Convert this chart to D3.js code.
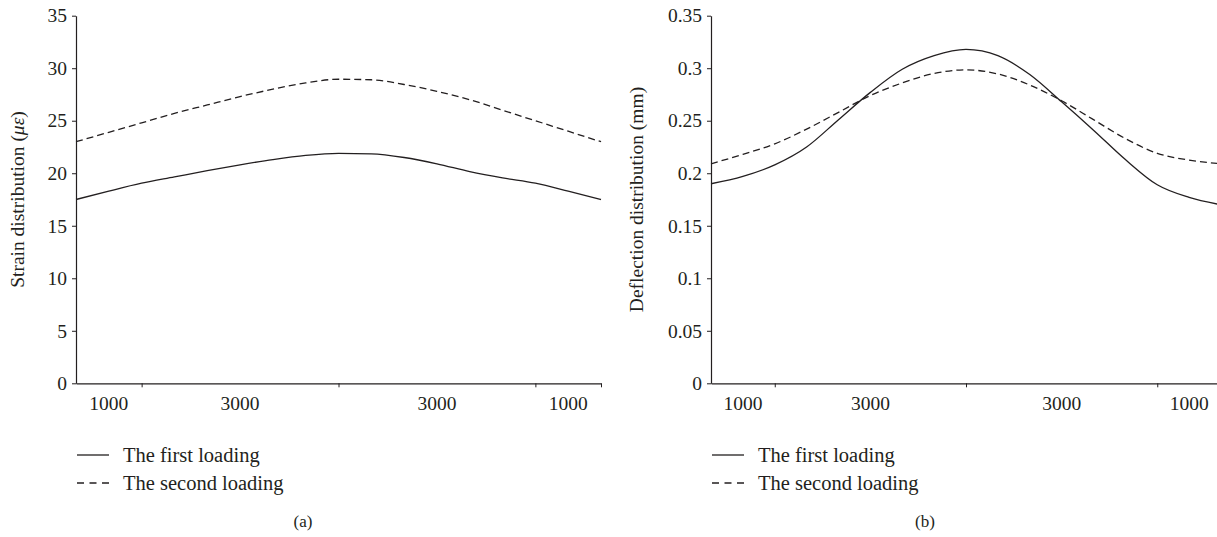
<!DOCTYPE html>
<html>
<head>
<meta charset="utf-8">
<script src="https://cdn.jsdelivr.net/npm/d3@7"></script>
<style>
  html, body { margin: 0; padding: 0; background: #fff; }
  svg { display: block; }
  text { font-family: "Liberation Serif", "Times New Roman", serif; fill: #231f20; }
</style>
</head>
<body>
<svg id="chart" width="1217" height="537"></svg>
<script>
// Positions along the span (mm)
const positions = [0, 500, 1000, 1500, 2000, 2500, 3000, 3500, 4000, 4500, 5000, 5500, 6000, 6500, 7000, 7500, 8000];
// Segment boundaries and their labels (x-axis)
const segmentBounds = [0, 1000, 4000, 7000, 8000];
const segmentLabels = ["1000", "3000", "3000", "1000"];

// (a) Strain distribution (με)
const strainFirst  = [17.5, 18.3, 19.05, 19.65, 20.25, 20.8, 21.3, 21.7, 21.9, 21.85, 21.5, 20.9, 20.15, 19.55, 19.05, 18.3, 17.5];
const strainSecond = [23.0, 23.9, 24.8, 25.7, 26.5, 27.3, 28.0, 28.6, 28.95, 28.9, 28.45, 27.8, 27.0, 26.0, 25.0, 24.0, 23.0];
const strainTicks  = [0, 5, 10, 15, 20, 25, 30, 35];

// (b) Deflection distribution (mm)
const deflFirst  = [0.19, 0.197, 0.208, 0.225, 0.251, 0.277, 0.299, 0.312, 0.318, 0.312, 0.294, 0.268, 0.241, 0.213, 0.189, 0.177, 0.170];
const deflSecond = [0.209, 0.218, 0.228, 0.242, 0.258, 0.274, 0.286, 0.295, 0.2985, 0.2945, 0.284, 0.269, 0.251, 0.233, 0.219, 0.2125, 0.209];
const deflTicks  = [0, 0.05, 0.1, 0.15, 0.2, 0.25, 0.3, 0.35];

const seriesNames = ["The first loading", "The second loading"];
const captions = ["(a)", "(b)"];

const svg = d3.select("#chart");
const ink = "#231f20";
const FS = 19.5;
const LFS = 20.5;

const panels = [
  { left: 76, right: 601, yMax: 35, ticks: strainTicks, fmt: d => String(d),
    first: strainFirst, second: strainSecond, titleX: 17, caption: captions[0], capX: 303,
    title: [{t: "Strain distribution ("}, {t: "με", i: true}, {t: ")"}] },
  { left: 711, right: 1221, yMax: 0.35, ticks: deflTicks, fmt: d => String(d),
    first: deflFirst, second: deflSecond, titleX: 636, caption: captions[1], capX: 925,
    title: [{t: "Deflection distribution (mm)"}] }
];

const plotTop = 15.7, plotBottom = 383.3;

panels.forEach(p => {
  const x = d3.scaleLinear().domain([0, 8000]).range([p.left, p.right]);
  const y = d3.scaleLinear().domain([0, p.yMax]).range([plotBottom, plotTop]);
  const g = svg.append("g");

  // Y axis
  const yAxis = d3.axisLeft(y).tickValues(p.ticks).tickFormat(p.fmt).tickSize(4).tickSizeOuter(0).tickPadding(5);
  const ya = g.append("g").attr("transform", `translate(${p.left},0)`).call(yAxis);
  ya.select(".domain").attr("stroke", ink).attr("stroke-width", 1.2);
  ya.selectAll(".tick line").attr("stroke", ink).attr("stroke-width", 1);
  ya.selectAll(".tick text").attr("font-size", FS).attr("font-family", "Liberation Serif").attr("fill", ink);

  // X axis
  const xAxis = d3.axisBottom(x).tickValues(segmentBounds.slice(1)).tickFormat("").tickSize(4).tickSizeOuter(0);
  const xa = g.append("g").attr("transform", `translate(0,${plotBottom})`).call(xAxis);
  xa.select(".domain").attr("stroke", ink).attr("stroke-width", 1.2);
  xa.selectAll(".tick line").attr("stroke", ink).attr("stroke-width", 1);

  // Segment labels
  g.selectAll(".seglab").data(segmentLabels).enter().append("text")
    .attr("x", (d, i) => x((segmentBounds[i] + segmentBounds[i + 1]) / 2))
    .attr("y", 410)
    .attr("text-anchor", "middle")
    .attr("font-size", FS)
    .text(d => d);

  // Lines
  const line = d3.line().x((d, i) => x(positions[i])).y(d => y(d)).curve(d3.curveMonotoneX);
  g.append("path").datum(p.first).attr("d", line)
    .attr("fill", "none").attr("stroke", ink).attr("stroke-width", 1.3);
  g.append("path").datum(p.second).attr("d", line)
    .attr("fill", "none").attr("stroke", ink).attr("stroke-width", 1.3).attr("stroke-dasharray", "7,4");

  // Y title
  const tt = g.append("text")
    .attr("transform", `translate(${p.titleX},${(plotTop + plotBottom) / 2}) rotate(-90)`)
    .attr("text-anchor", "middle").attr("font-size", FS).attr("dy", "0.35em");
  p.title.forEach(s => tt.append("tspan").text(s.t).attr("font-style", s.i ? "italic" : null));

  // Legend
  const lg = g.append("g").attr("transform", `translate(${p.left},0)`);
  seriesNames.forEach((name, i) => {
    const ly = 455 + i * 28;
    lg.append("line").attr("x1", 1).attr("x2", 33).attr("y1", ly).attr("y2", ly)
      .attr("stroke", ink).attr("stroke-width", 1.3)
      .attr("stroke-dasharray", i === 1 ? "7,5.5" : null);
    lg.append("text").attr("x", 47).attr("y", ly).attr("dy", "0.32em")
      .attr("font-size", LFS).text(name);
  });

  // Caption
  g.append("text").attr("x", p.capX).attr("y", 527).attr("text-anchor", "middle")
    .attr("font-size", 17).text(p.caption);
});
</script>
</body>
</html>
